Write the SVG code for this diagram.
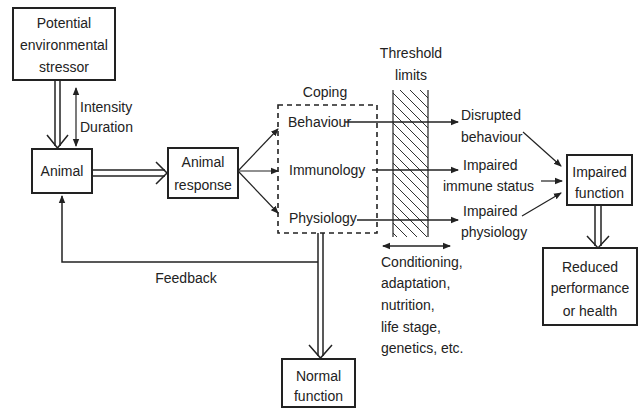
<svg xmlns="http://www.w3.org/2000/svg" width="644" height="409" viewBox="0 0 644 409">
<style>
text{font-family:"Liberation Sans",Arial,sans-serif;font-size:14px;fill:#222}
.c{text-anchor:middle}
.box{fill:#fff;stroke:#222;stroke-width:2}
.ln{fill:none;stroke:#222;stroke-width:1.5}
.thin{fill:none;stroke:#222;stroke-width:1.2}
.dash{fill:none;stroke:#222;stroke-width:1.6;stroke-dasharray:5 4}
</style>
<defs>
<marker id="ah" markerWidth="8" markerHeight="8" refX="7" refY="4" orient="auto" markerUnits="userSpaceOnUse">
<path d="M0,0.8 L8,4 L0,7.2 z" fill="#222"/>
</marker>
<marker id="as" markerWidth="8" markerHeight="8" refX="1" refY="4" orient="auto" markerUnits="userSpaceOnUse">
<path d="M8,0.8 L0,4 L8,7.2 z" fill="#222"/>
</marker>
<pattern id="hatch" patternUnits="userSpaceOnUse" width="10" height="10">
<path d="M-1,-1 L11,11 M-1,9 L1,11 M9,-1 L11,1" stroke="#333" stroke-width="1"/>
</pattern>
</defs>
<rect width="644" height="409" fill="#fff"/>

<g id="threshold">
<rect x="393" y="90" width="35" height="147" fill="url(#hatch)"/>
<line x1="393" y1="90" x2="393" y2="237" class="thin"/>
<line x1="428" y1="90" x2="428" y2="237" class="thin"/>
<text x="411" y="58" class="c">Threshold</text>
<text x="411" y="80" class="c">limits</text>
</g>

<g id="connectors">
<line x1="55" y1="80" x2="55" y2="146" class="ln"/>
<line x1="60" y1="80" x2="60" y2="146" class="ln"/>
<polyline points="47,135 57.5,148 68,135" class="ln" stroke-width="2"/>
<line x1="76" y1="88" x2="76" y2="146" class="thin" marker-start="url(#as)" marker-end="url(#ah)"/>
<line x1="92" y1="170" x2="165" y2="170" class="ln"/>
<line x1="92" y1="176" x2="165" y2="176" class="ln"/>
<polyline points="156,162 167,173 156,184" class="ln" stroke-width="2"/>
<line x1="238" y1="171" x2="278" y2="129" class="thin" marker-end="url(#ah)"/>
<line x1="238" y1="171" x2="278" y2="171" class="thin" marker-end="url(#ah)"/>
<line x1="238" y1="171" x2="278" y2="213" class="thin" marker-end="url(#ah)"/>
<line x1="345" y1="122" x2="458" y2="122" class="ln" marker-end="url(#ah)"/>
<line x1="372" y1="170" x2="458" y2="170" class="ln" marker-end="url(#ah)"/>
<line x1="357" y1="220" x2="458" y2="220" class="ln" marker-end="url(#ah)"/>
<line x1="523" y1="132" x2="561" y2="166" class="thin" marker-end="url(#ah)"/>
<line x1="541" y1="181" x2="562" y2="181" class="thin" marker-end="url(#ah)"/>
<line x1="522" y1="216" x2="561" y2="193" class="thin" marker-end="url(#ah)"/>
<line x1="383" y1="246" x2="450" y2="246" class="ln" marker-start="url(#as)" marker-end="url(#ah)"/>
<line x1="595" y1="205" x2="595" y2="246" class="ln"/>
<line x1="601" y1="205" x2="601" y2="246" class="ln"/>
<polyline points="587,236 598,248 609,236" class="ln" stroke-width="2"/>
<line x1="318" y1="233" x2="318" y2="356" class="ln"/>
<line x1="323" y1="233" x2="323" y2="356" class="ln"/>
<polyline points="309,345 320.5,358 332,345" class="ln" stroke-width="2"/>
<polyline points="318,262 62,262 62,196" class="ln" marker-end="url(#ah)"/>
<text x="186" y="283" class="c">Feedback</text>
</g>

<g id="stressor">
<rect x="13" y="8" width="102" height="72" class="box"/>
<text x="64" y="28" class="c">Potential</text>
<text x="64" y="50" class="c">environmental</text>
<text x="64" y="72" class="c">stressor</text>
</g>
<g id="intensity-label">
<text x="80" y="112">Intensity</text>
<text x="80" y="132">Duration</text>
</g>
<g id="animal">
<rect x="32" y="149" width="60" height="44" class="box"/>
<text x="62" y="176" class="c">Animal</text>
</g>
<g id="response">
<rect x="168" y="148" width="70" height="50" class="box"/>
<text x="203" y="167" class="c">Animal</text>
<text x="203" y="190" class="c">response</text>
</g>
<g id="coping">
<rect x="278" y="105" width="99" height="128" class="dash"/>
<text x="325" y="97" class="c">Coping</text>
<text x="288" y="127">Behaviour</text>
<text x="289" y="175">Immunology</text>
<text x="289" y="223">Physiology</text>
</g>
<g id="outcomes">
<text x="461" y="120">Disrupted</text>
<text x="461" y="142">behaviour</text>
<text x="463" y="170">Impaired</text>
<text x="443" y="191">immune status</text>
<text x="463" y="216">Impaired</text>
<text x="461" y="237">physiology</text>
</g>
<g id="conditioning">
<text x="381" y="267">Conditioning,</text>
<text x="381" y="288">adaptation,</text>
<text x="381" y="310">nutrition,</text>
<text x="381" y="332">life stage,</text>
<text x="381" y="353">genetics, etc.</text>
</g>
<g id="impaired">
<rect x="567" y="155" width="65" height="50" class="box"/>
<text x="599.5" y="177" class="c">Impaired</text>
<text x="599.5" y="198" class="c">function</text>
</g>
<g id="reduced">
<rect x="543" y="248" width="94" height="77" class="box"/>
<text x="590" y="272" class="c">Reduced</text>
<text x="590" y="293" class="c">performance</text>
<text x="590" y="316" class="c">or health</text>
</g>
<g id="normal">
<rect x="282" y="359" width="73" height="48" class="box"/>
<text x="318.5" y="381" class="c">Normal</text>
<text x="318.5" y="401" class="c">function</text>
</g>
</svg>
